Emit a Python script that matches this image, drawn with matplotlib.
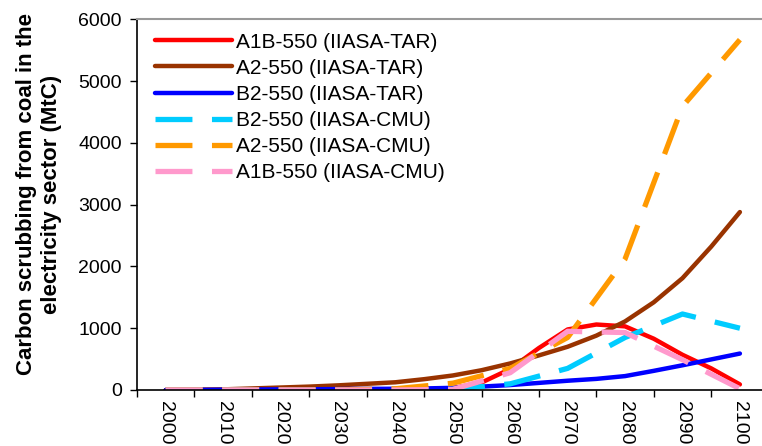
import matplotlib
matplotlib.use("Agg")
import matplotlib.pyplot as plt

plt.rcParams['font.family'] = ['Liberation Sans', 'DejaVu Sans']

years_tar = [2000, 2005, 2010, 2015, 2020, 2025, 2030, 2035, 2040, 2045, 2050,
             2055, 2060, 2065, 2070, 2075, 2080, 2085, 2090, 2095, 2100]
years_cmu = [2000, 2010, 2020, 2030, 2040, 2050, 2060, 2070, 2080, 2090, 2100]

a1b_tar = [0, 0, 0, 0, 0, 0, 0, 0, 0, 5, 30,
           120, 340, 680, 980, 1060, 1030, 830, 570, 350, 90]
a2_tar = [0, 5, 10, 25, 40, 55, 75, 100, 125, 175, 235,
          320, 430, 560, 700, 880, 1110, 1420, 1810, 2320, 2880]
b2_tar = [0, 2, 5, 8, 10, 12, 15, 18, 20, 25, 35,
          55, 80, 115, 150, 180, 225, 310, 400, 495, 590]

b2_cmu = [0, 0, 0, 0, 0, 10, 100, 350, 850, 1230, 1000]
a2_cmu = [0, 0, 0, 0, 20, 110, 350, 850, 2120, 4590, 5670]
a1b_cmu = [0, 0, 0, 0, 0, 10, 280, 950, 930, 490, 20]

labels = ['A1B-550 (IIASA-TAR)', 'A2-550 (IIASA-TAR)', 'B2-550 (IIASA-TAR)',
          'B2-550 (IIASA-CMU)', 'A2-550 (IIASA-CMU)', 'A1B-550 (IIASA-CMU)']
xlabels = [str(y) for y in years_cmu]

fig = plt.figure(figsize=(7.62, 4.46), dpi=100)
ax = fig.add_axes([137 / 762, 1 - 390 / 446, 631.6 / 762, 370.7 / 446])

lw_s = 3.2
lw_d = 3.8
dash = (7, 3.7)
ax.plot(years_tar, a1b_tar, color='#FF0000', lw=lw_s, label=labels[0], solid_capstyle='round')
ax.plot(years_tar, a2_tar, color='#993300', lw=lw_s, label=labels[1], solid_capstyle='round')
ax.plot(years_tar, b2_tar, color='#0000FF', lw=lw_s, label=labels[2], solid_capstyle='round')
ax.plot(years_cmu, b2_cmu, color='#00CCFF', lw=lw_d, dashes=dash, label=labels[3])
ax.plot(years_cmu, a2_cmu, color='#FF9900', lw=lw_d, dashes=dash, label=labels[4])
ax.plot(years_cmu, a1b_cmu, color='#FF99CC', lw=lw_d, dashes=dash, label=labels[5])

ax.set_xlim(1995, 2105)
ax.set_ylim(0, 6000)
ax.set_yticks(range(0, 6001, 1000))
ax.tick_params(axis='y', labelsize=14, length=5, width=1, direction='out', pad=6)

# ticks sit between categories, labels on the category centres
ax.set_xticks([1995 + 10 * i for i in range(12)])
ax.set_xticklabels([])
ax.set_xticks(years_cmu, minor=True)
ax.set_xticklabels(xlabels, minor=True, rotation=270, fontsize=14)
ax.tick_params(axis='x', which='major', length=5, width=1, direction='out')
ax.tick_params(axis='x', which='minor', length=0, pad=8)

ax.spines['right'].set_visible(False)
ax.spines['top'].set_color('#999999')
ax.spines['top'].set_linewidth(1.5)
ax.spines['left'].set_linewidth(1.2)
ax.spines['bottom'].set_linewidth(1.2)

fig.text(27 / 762, 1 - 194 / 446, 'Carbon scrubbing from coal in the',
         rotation=90, ha='center', va='center', fontsize=16, fontweight='bold')
fig.text(52 / 762, 1 - 194 / 446, 'electricity sector (MtC)',
         rotation=90, ha='center', va='center', fontsize=16, fontweight='bold')

ax.legend(loc='upper left', bbox_to_anchor=(0.0285, 0.964), frameon=False,
          fontsize=15, handlelength=3.7, handletextpad=0.2, labelspacing=0.34,
          borderaxespad=0, borderpad=0)

fig.savefig('out.png', dpi=100)
